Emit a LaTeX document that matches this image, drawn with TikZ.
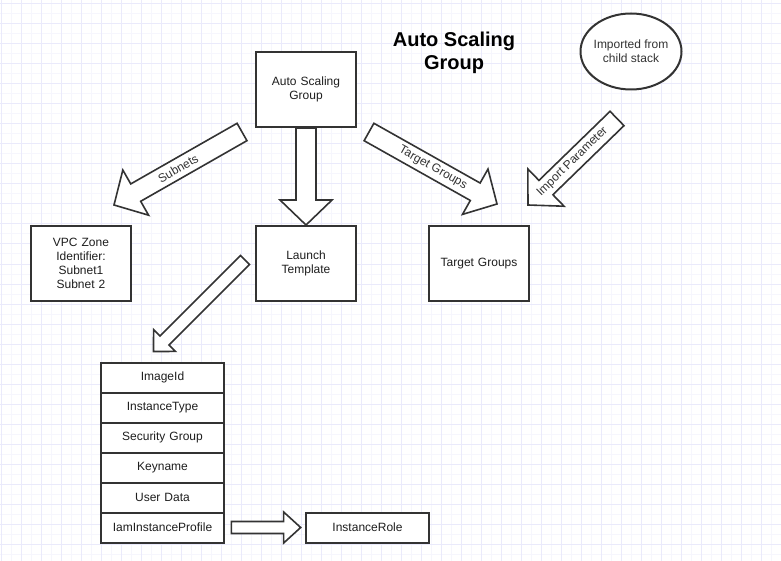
\documentclass[tikz,border=0pt]{standalone}
\usepackage{fontspec}
\setmainfont{Liberation Sans}
\usetikzlibrary{calc, shapes.geometric}

% hollow arrow: start, end, half shaft, half head, head length
\newcommand{\flexarrow}[5]{%
  \draw[blockarrow] let \p1 = ($(#2)-(#1)$), \n1 = {atan2(\y1,\x1)} in
    ($(#1)+({\n1+90}:#3)$) -- ($(#2)!#5!(#1)+({\n1+90}:#3)$)
    -- ($(#2)!#5!(#1)+({\n1+90}:#4)$) -- (#2)
    -- ($(#2)!#5!(#1)+({\n1-90}:#4)$) -- ($(#2)!#5!(#1)+({\n1-90}:#3)$)
    -- ($(#1)+({\n1-90}:#3)$) -- cycle;
}

\begin{document}
\begin{tikzpicture}[
    x=1pt, y=-1pt,
    node distance=30pt,
]

\definecolor{grid_minor}{RGB}{246,246,253}
\definecolor{grid_major}{RGB}{234,234,251}
\definecolor{line_color}{RGB}{51,51,51}
\definecolor{text_color}{RGB}{30,30,30}

\tikzstyle{box} = [rectangle, draw=line_color, fill=white, line width=2pt, minimum width=100pt, minimum height=75pt, text width=92pt, align=center, text=text_color, font=\fontsize{12}{14}\selectfont]
\tikzstyle{field} = [box, minimum width=123pt, minimum height=30pt, text width=117pt]
\tikzstyle{blockarrow} = [draw=line_color, fill=white, line width=1.6pt]
\tikzstyle{lbl} = [text=line_color, font=\fontsize{12}{14}\selectfont]

% paper grid
\useasboundingbox (0,0) rectangle (781,561);
\fill[white] (0,0) rectangle (781,561);
\foreach \gx in {1.7,11.7,...,781} \draw[grid_minor, line width=1pt] (\gx,0) -- (\gx,561);
\foreach \gy in {4,14,...,561} \draw[grid_minor, line width=1pt] (0,\gy) -- (781,\gy);
\foreach \gx in {1.7,21.7,...,781} \draw[grid_major, line width=1pt] (\gx,0) -- (\gx,561);
\foreach \gy in {4,24,...,561} \draw[grid_major, line width=1pt] (0,\gy) -- (781,\gy);

\node (asg) [box] at (306,89.5) {Auto Scaling\\Group};
\node (lt) [box, below of=asg, node distance=174pt] {Launch\\Template};
\node (vpc) [box, left of=lt, node distance=225pt] {VPC Zone\\Identifier:\\Subnet1\\Subnet 2};
\node (tg) [box, right of=lt, node distance=173pt] {Target Groups};

\node (title) [right of=asg, node distance=148pt, yshift=37pt, align=center, font=\bfseries\fontsize{20}{23}\selectfont] {Auto Scaling\\Group};
\node (child) [ellipse, draw=line_color, fill=white, line width=2pt, inner xsep=-3pt, minimum width=101pt, minimum height=76pt, above of=tg, node distance=212pt, xshift=152pt, align=center, text=line_color, font=\fontsize{12}{14}\selectfont] {Imported from\\child stack};

\node (imageid) [field, below of=lt, node distance=114pt, xshift=-143.5pt] {ImageId};
\node (insttype) [field, below of=imageid] {InstanceType};
\node (secgroup) [field, below of=insttype] {Security Group};
\node (keyname) [field, below of=secgroup] {Keyname};
\node (userdata) [field, below of=keyname] {User Data};
\node (iamprofile) [field, below of=userdata] {IamInstanceProfile};
\node (role) [field, right of=iamprofile, node distance=205pt] {InstanceRole};

\coordinate (subnets_s) at ($(asg.south west)+(-13,4)$);
\coordinate (subnets_e) at ($(vpc.north east)+(-18,-20)$);
\coordinate (tgarrow_s) at ($(asg.south east)+(12,4)$);
\coordinate (tgarrow_e) at ($(tg.north)+(18,-21)$);
\coordinate (import_s) at ($(child.south)+(-14,28)$);
\coordinate (import_e) at ($(tg.north east)+(-2,-20)$);
\coordinate (lt_s) at ($(lt.west)+(-10,-3.5)$);
\coordinate (lt_e) at ($(imageid.north)+(-9,-10)$);
\coordinate (iam_s) at ($(iamprofile.east)+(6,0)$);
\coordinate (iam_e) at ($(role.west)+(-4,0)$);

\flexarrow{subnets_s}{subnets_e}{10pt}{26pt}{25pt}
\flexarrow{asg.south}{lt.north}{10pt}{26pt}{25pt}
\flexarrow{tgarrow_s}{tgarrow_e}{10pt}{26pt}{25pt}
\flexarrow{import_s}{import_e}{10pt}{26pt}{25pt}
\flexarrow{lt_s}{lt_e}{6.3pt}{15.4pt}{15.5pt}
\flexarrow{iam_s}{iam_e}{6pt}{15.5pt}{17pt}

\path (subnets_s) -- node[lbl, sloped] {Subnets} (subnets_e);
\path (tgarrow_s) -- node[lbl, sloped] {Target Groups} (tgarrow_e);
\path (import_s) -- node[lbl, sloped] {Import Parameter} (import_e);

\end{tikzpicture}
\end{document}
